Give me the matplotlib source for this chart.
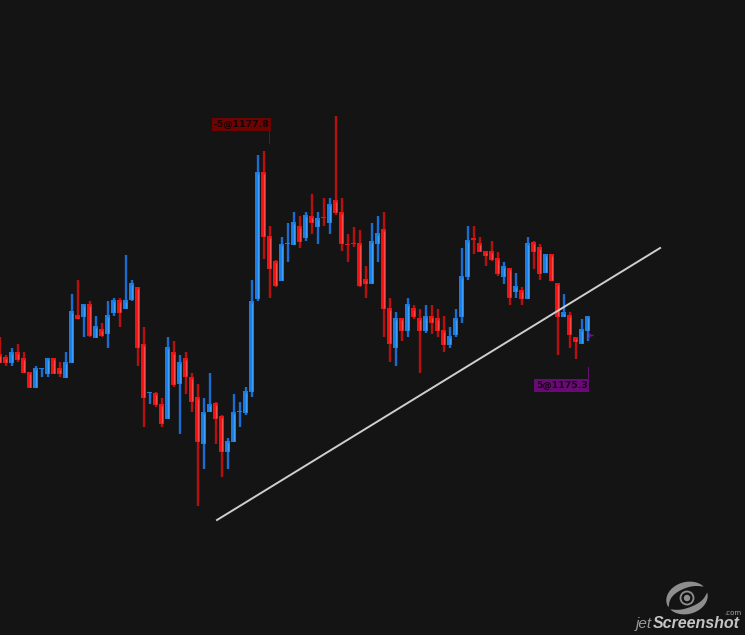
import matplotlib
matplotlib.use('Agg')
import matplotlib.pyplot as plt
from matplotlib.patches import Circle
import numpy as np

side = ['R', 'R', 'B', 'R', 'R', 'R', 'B', 'B', 'B', 'R', 'R', 'B', 'B', 'R', 'B', 'R', 'B', 'R', 'B', 'B',
        'R', 'B', 'B', 'R', 'R', 'B', 'R', 'R', 'B', 'R', 'B', 'R', 'R', 'R', 'B', 'B', 'R', 'R', 'B', 'B',
        'B', 'B', 'B', 'B', 'R', 'R', 'R', 'B', 'B', 'B', 'R', 'B', 'R', 'B', 'R', 'B', 'R', 'R', 'R', 'R',
        'R', 'R', 'B', 'B', 'R', 'R', 'B', 'R', 'B', 'R', 'R', 'B', 'R', 'R', 'R', 'B', 'B', 'B', 'B', 'R',
        'R', 'R', 'R', 'R', 'B', 'R', 'B', 'R', 'B', 'R', 'R', 'B', 'R', 'R', 'B', 'R', 'R', 'B', 'B']
body_top = [354, 357, 352, 352, 358, 372, 368, 368, 358, 358, 368, 362, 311, 315, 304, 304, 326, 329, 315, 300,
            300, 300, 283, 287, 344, 392, 393, 404, 347, 352, 362, 358, 377, 397, 412, 404, 403, 416, 441, 412,
            411, 391, 301, 172, 172, 236, 261, 244, 243, 222, 226, 215, 216, 218, 217, 204, 200, 212, 244, 243,
            243, 279, 241, 233, 229, 308, 318, 318, 304, 308, 318, 316, 316, 318, 330, 336, 318, 276, 240, 238,
            243, 251, 251, 258, 266, 268, 286, 290, 243, 242, 247, 254, 254, 283, 312, 315, 337, 329, 316]
body_bottom = [363, 363, 363, 360, 373, 388, 388, 369, 374, 374, 374, 378, 363, 319, 317, 336, 338, 336, 334, 313,
               313, 309, 300, 348, 398, 393, 405, 424, 419, 385, 384, 377, 402, 442, 444, 412, 419, 452, 452, 442,
               412, 413, 392, 299, 237, 269, 286, 281, 244, 245, 242, 238, 223, 227, 218, 223, 213, 244, 245, 244,
               286, 284, 284, 244, 309, 344, 348, 331, 331, 317, 331, 331, 323, 331, 345, 345, 335, 317, 277, 240,
               252, 256, 260, 274, 277, 298, 292, 299, 299, 252, 274, 273, 281, 317, 317, 335, 342, 344, 331]
wick_top = [337, 355, 348, 344, 352, 372, 366, 368, 358, 358, 362, 352, 294, 280, 304, 301, 316, 323, 301, 298,
            298, 255, 280, 287, 327, 392, 392, 398, 337, 341, 355, 352, 373, 384, 398, 373, 402, 415, 438, 394,
            402, 387, 280, 155, 151, 226, 260, 237, 223, 212, 216, 212, 194, 212, 198, 198, 116, 198, 234, 227,
            230, 266, 223, 216, 212, 298, 312, 318, 298, 305, 309, 305, 305, 309, 316, 327, 309, 248, 226, 226,
            237, 251, 241, 252, 262, 268, 273, 287, 237, 241, 244, 254, 254, 283, 294, 312, 337, 319, 316]
wick_bottom = [363, 366, 366, 362, 373, 388, 388, 377, 377, 374, 377, 378, 363, 319, 337, 337, 338, 337, 348, 316,
               327, 309, 301, 366, 427, 404, 407, 427, 419, 387, 434, 394, 412, 506, 469, 412, 444, 477, 469, 442,
               427, 415, 397, 301, 259, 298, 287, 281, 262, 245, 248, 241, 234, 244, 226, 234, 215, 251, 262, 247,
               287, 298, 284, 262, 337, 362, 366, 341, 337, 319, 373, 333, 334, 337, 352, 348, 337, 323, 280, 254,
               252, 266, 261, 276, 284, 305, 298, 305, 299, 269, 280, 273, 281, 355, 317, 348, 359, 344, 341]
line_index = [36.25, 110.1]
line_rows = [520, 248]
entry_labels = ['-5@1177.8', '5@1175.3']

body_colors = {'R': '#f01212', 'B': '#1c7ce6'}
wick_colors = {'R': '#b81010', 'B': '#1a6cd0'}
core_colors = {'R': '#ff4a4a', 'B': '#3f9ff8'}

fig = plt.figure(figsize=(7.45, 6.35), dpi=100, facecolor='#141414')
ax = fig.add_axes([0, 0, 1, 1], facecolor='#141414')
ax.set_xlim(0.083, 124.25)
ax.set_ylim(635, 0)
ax.axis('off')

x = np.arange(len(side))
top = np.array(body_top)
bottom = np.array(body_bottom)
ax.vlines(x, wick_top, wick_bottom, colors=[wick_colors[s] for s in side], lw=1.7, zorder=2)
ax.bar(x, np.maximum(bottom - top, 1), 0.78, top, color=[body_colors[s] for s in side], lw=0, zorder=3)
ax.vlines(x, top + 1.5, np.maximum(bottom - 1.5, top + 1.5), colors=[core_colors[s] for s in side], lw=0.9, zorder=4)

# trend line
ax.plot(line_index, line_rows, color='#cfcfcf', lw=1.4, zorder=5)

# fills
ax.plot([44.9, 44.9], [131, 143], color='#7a0c0c', lw=0.7, zorder=1)
ax.text(40.3, 124.5, entry_labels[0], color='#160303', fontsize=6.7, fontweight='bold', family='DejaVu Sans',
        ha='center', va='center', zorder=6,
        bbox=dict(boxstyle='square,pad=0.2', fc='#6e0303', ec='none'))
ax.plot([98, 98], [367, 379], color='#6d0f78', lw=0.7, zorder=1)
ax.text(93.7, 385.5, entry_labels[1], color='#160318', fontsize=6.7, fontweight='bold', family='DejaVu Sans',
        ha='center', va='center', zorder=6,
        bbox=dict(boxstyle='square,pad=0.2', fc='#6a0a76', ec='none'))
ax.plot([98.4], [335], marker='4', color='#7a10a0', ms=5, zorder=6)


# watermark
def px(a, b):
    return (a / 745, 1 - b / 635)


def swoosh(a, a0, a1, rx, ry, w):
    t = np.linspace(0, 1, 60)
    ang = np.radians(a0 + (a1 - a0) * t)
    thick = w * np.sin(np.pi * t) ** 0.7
    xo, yo = rx * np.cos(ang), ry * np.sin(ang)
    xi, yi = (rx - thick) * np.cos(ang), (ry - thick) * np.sin(ang)
    c, s = np.cos(np.radians(15)), np.sin(np.radians(15))
    px_ = np.r_[xo, xi[::-1]]
    py_ = np.r_[yo, yi[::-1]]
    a.fill(c * px_ - s * py_, s * px_ + c * py_, color='#8e8e8e', lw=0)


logo = fig.add_axes([662 / 745, 1 - 616 / 635, 50 / 745, 36 / 635], facecolor='none')
logo.set_xlim(-25, 25)
logo.set_ylim(-18, 18)
logo.axis('off')
swoosh(logo, 195, 25, 21, 16, 6.5)
swoosh(logo, 0, -155, 21, 16, 6.5)
logo.add_patch(Circle((0, 0), 6.5, fc='none', ec='#8e8e8e', lw=1.3))
logo.add_patch(Circle((0, 0), 2.5, color='#8e8e8e'))
fig.text(*px(636, 628), 'jet', color='#9a9a9a', fontsize=11, style='italic', family='Liberation Sans')
fig.text(*px(653, 628), 'Screenshot', color='#c4c4c4', fontsize=11.5, style='italic', fontweight='bold',
         family='Liberation Sans')
fig.text(*px(724, 615), '.com', color='#a8a8a8', fontsize=5, family='DejaVu Sans')

fig.savefig('out.png', dpi=100, facecolor=fig.get_facecolor())
